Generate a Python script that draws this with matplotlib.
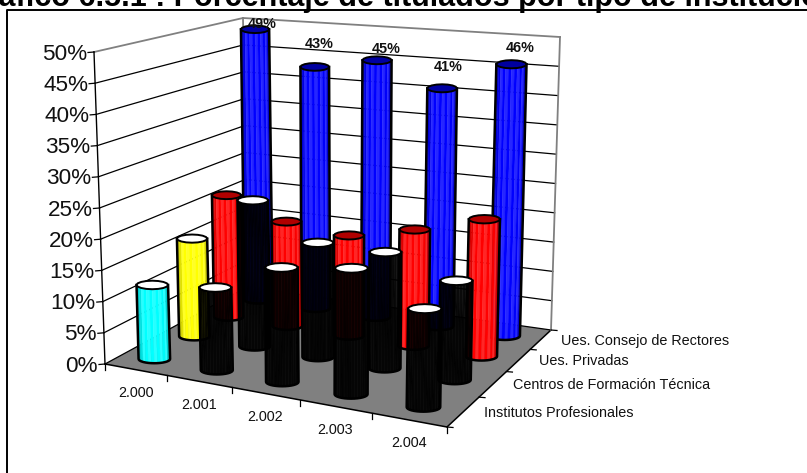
import numpy as np
import matplotlib
matplotlib.use("Agg")
import matplotlib.pyplot as plt
from matplotlib.patches import Polygon

plt.rcParams['font.family'] = ['Liberation Sans', 'DejaVu Sans']

### data
years = ["2.000", "2.001", "2.002", "2.003", "2.004"]
rows = ["Institutos Profesionales", "Centros de Formación Técnica", "Ues. Privadas", "Ues. Consejo de Rectores"]
institutos = [12, 13.2, 18, 19.5, 15]
centros = [16.5, 24.3, 18.7, 18.7, 15.7]
privadas = [21.3, 18, 17, 19.4, 22.5]
consejo = [49, 43, 45, 41, 46]
blue_labels = ["49%", "43%", "45%", "41%", "46%"]
y_ticks = [0, 5, 10, 15, 20, 25, 30, 35, 40, 45, 50]

### style
# colours per row: side, cap. first year of the two front rows has its own colour
row_colors = [("#000000", "#ffffff"), ("#000000", "#ffffff"), ("#ff0000", "#b00000"), ("#0000ff", "#0000a0")]
first_colors = {0: "#00ffff", 1: "#ffff00"}
label_offsets = [(7, -5), (4, -23), (9, -11), (6, -21), (9, -16)]

# pixel positions of the box: front-left, front-right, back-right, back-left
floor_px = np.array([(105, 364), (447, 427), (551, 330), (247, 287)], float)
top_px = np.array([(94, 52), (453, 90), (560, 37), (243, 18)], float)
zmax = 50.0
nx, ny = len(years), len(rows)
warp_x, warp_y = 1.131, 0.75 # foreshortening along the two floor axes
bar_depth = 0.42 # bars sit a bit in front of the middle of their row


def bilinear(c, u, v):
	return c[0] * (1 - u) * (1 - v) + c[1] * u * (1 - v) + c[2] * u * v + c[3] * (1 - u) * v


def proj(i, j, z):
	# i along the years, j along the rows, z in percent
	u, v = i / nx, j / ny
	u = u / (u + (1 - u) * warp_x)
	v = v / (v + (1 - v) * warp_y)
	a = bilinear(floor_px, u, v)
	b = bilinear(top_px, u, v)
	return a + (b - a) * z / zmax


def shade(col, f):
	c = np.array(matplotlib.colors.to_rgb(col))
	if f < 1:
		return tuple(c * f)
	return tuple(c + (1 - c) * (f - 1))


def cylinder(ax, i, j, val, side, cap):
	base = proj(i + 0.5, j + bar_depth, 0)
	top = proj(i + 0.5, j + bar_depth, val)
	local = np.linalg.norm(proj(i + 0.5, j + bar_depth, zmax) - base) / 313.0
	a = 16 * local
	b = 0.27 * a
	alpha = 0.96 if side == "#000000" else 1
	t = np.linspace(np.pi, 2 * np.pi, 17)
	xs, ys = np.cos(t), -np.sin(t)
	# visible side, one quad per facet
	for k in range(16):
		xc = (xs[k] + xs[k + 1]) / 2
		f = 0.72 + 0.28 * min(1, (1 - abs(xc)) * 2.5)
		if k % 2 == 0 and abs(xc) < 0.8 and side != "#000000":
			f = 1.15
		q = [(base[0] + a * xs[k], base[1] + b * ys[k]), (base[0] + a * xs[k + 1], base[1] + b * ys[k + 1]),
			(top[0] + a * xs[k + 1], top[1] + b * ys[k + 1]), (top[0] + a * xs[k], top[1] + b * ys[k])]
		ax.add_patch(Polygon(q, closed=True, fc=shade(side, f), ec=shade(side, f), lw=0.3, alpha=alpha, zorder=5))
	# outline of the side
	ox = [top[0] - a] + list(base[0] + a * xs) + [top[0] + a]
	oy = [top[1]] + list(base[1] + b * ys) + [top[1]]
	ax.plot(ox, oy, color="k", lw=1.8, zorder=5, solid_joinstyle="round")
	# cap
	t = np.linspace(0, 2 * np.pi, 17)
	capxy = np.c_[top[0] + a * np.cos(t), top[1] + b * np.sin(t)]
	ax.add_patch(Polygon(capxy, closed=True, fc=cap, ec="k", lw=1.4, zorder=5))


### figure
fig = plt.figure(figsize=(8.07, 4.73), dpi=100)
ax = fig.add_axes([0, 0, 1, 1])
ax.set_xlim(0, 807)
ax.set_ylim(473, 0)
ax.axis("off")

# title is cut by the top of the picture
ax.text(401, 6, "Gráfico 6.5.1 : Porcentaje de titulados por tipo de institución", fontsize=22, fontweight="bold",
	ha="center", va="baseline", color="k", clip_on=True)

# frame
ax.plot([7, 7, 807], [473, 10, 10], color="k", lw=1.4)

# floor
c00, c10, c11, c01 = proj(0, 0, 0), proj(nx, 0, 0), proj(nx, ny, 0), proj(0, ny, 0)
ax.add_patch(Polygon([c00, c10, c11, c01], closed=True, fc="#808080", ec="none", zorder=1))
ax.plot([c00[0], c10[0], c11[0]], [c00[1], c10[1], c11[1]], color="k", lw=1.1, zorder=2)

# walls and grid
for z in y_ticks:
	p0, p1, p2 = proj(0, 0, z), proj(0, ny, z), proj(nx, ny, z)
	col = "#808080" if z == zmax else "k"
	lw = 1.3 if z == zmax else 0.9
	ax.plot([p0[0], p1[0], p2[0]], [p0[1], p1[1], p2[1]], color=col, lw=lw, zorder=2)
	ax.plot([p0[0] - 6, p0[0]], [p0[1] + 0.5, p0[1]], color="k", lw=0.9, zorder=2)
	ax.text(p0[0] - 7, p0[1] + 2, "%d%%" % z, fontsize=16.2, ha="right", va="center", color="#111111")
p0, p1 = proj(0, 0, 0), proj(0, 0, zmax)
ax.plot([p0[0], p1[0]], [p0[1], p1[1]], color="k", lw=1, zorder=2)
p0, p1 = proj(nx, ny, 0), proj(nx, ny, zmax)
ax.plot([p0[0], p1[0]], [p0[1], p1[1]], color="#808080", lw=1.3, zorder=2)
p0, p1 = proj(0, ny, 0), proj(0, ny, zmax)
ax.plot([p0[0], p1[0]], [p0[1], p1[1]], color="#808080", lw=1.3, zorder=2)

# axis ticks and labels
for i in range(nx + 1):
	p = proj(i, 0, 0)
	ax.plot([p[0], p[0]], [p[1], p[1] + 6], color="k", lw=0.9, zorder=2)
for i, lab in enumerate(years):
	p = proj(i + 0.5, 0, 0)
	ax.text(p[0], p[1] + 23.5, lab, fontsize=10.4, ha="center", va="center", color="#111111")
for j in range(ny + 1):
	p = proj(nx, j, 0)
	ax.plot([p[0], p[0] + 6], [p[1], p[1] + 0.5], color="k", lw=0.9, zorder=2)
for j, lab in enumerate(rows):
	p = proj(nx, j + 0.5, 0)
	ax.text(p[0] + 20, p[1] + 1.3, lab, fontsize=10.4, ha="left", va="center", color="#111111")

# bars, back row first
series = [institutos, centros, privadas, consejo]
for j in range(ny - 1, -1, -1):
	for i in range(nx):
		side, cap = row_colors[j]
		if i == 0 and j in first_colors:
			side = first_colors[j]
		cylinder(ax, i, j, series[j][i], side, cap)

# labels of the back row
for i, lab in enumerate(blue_labels):
	p = proj(i + 0.5, ny - 1 + bar_depth, consejo[i])
	dx, dy = label_offsets[i]
	ax.text(p[0] + dx, p[1] + dy, lab, fontsize=10.4, fontweight="bold", ha="center", va="center", color="#111111", zorder=6)

plt.savefig("out.png", dpi=100)
